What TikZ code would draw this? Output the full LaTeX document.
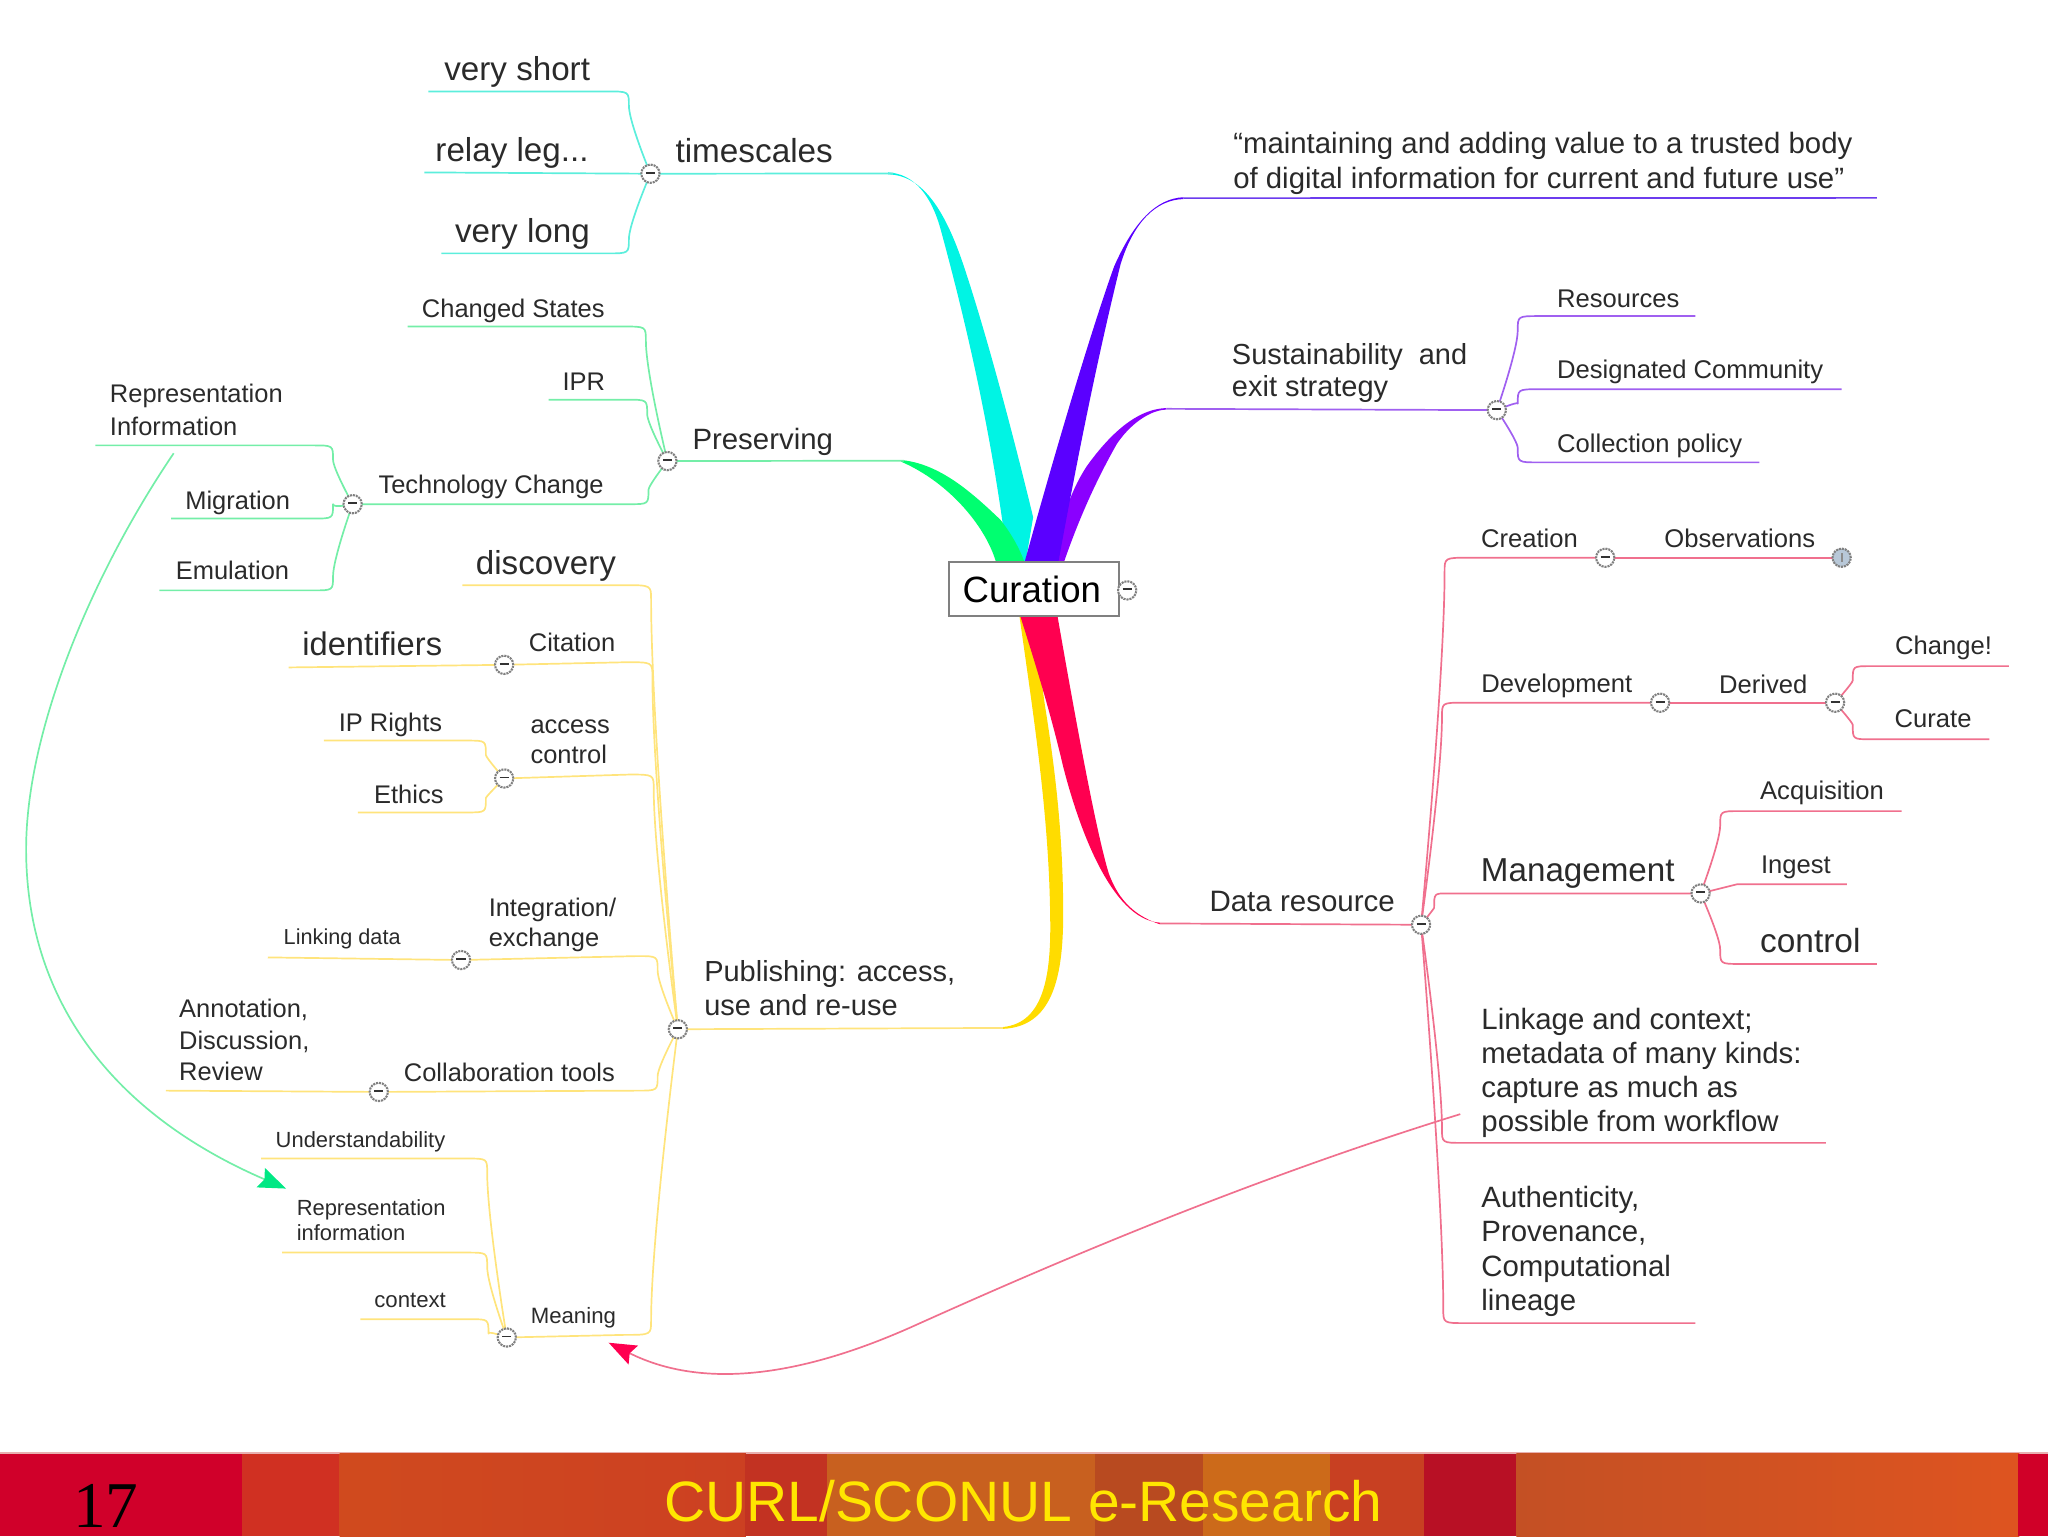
\documentclass[tikz,border=0pt]{standalone}
\usepackage{fontspec}
\setmainfont{Liberation Sans}
\newfontfamily\serifnum{Liberation Serif}
\usetikzlibrary{calc,backgrounds,arrows.meta}
\definecolor{inkc}{HTML}{2A2A2A}
\definecolor{lcyan}{HTML}{5CEEDC}
\definecolor{lviolet}{HTML}{6C3CEE}
\definecolor{lpurple}{HTML}{A060F0}
\definecolor{lgreen}{HTML}{74EEA8}
\definecolor{lyellow}{HTML}{FFE47C}
\definecolor{lpink}{HTML}{F0708E}
\definecolor{fcyan}{HTML}{00F4E4}
\definecolor{fviolet}{HTML}{5A00FF}
\definecolor{fpurple}{HTML}{8A00FF}
\definecolor{fgreen}{HTML}{00FF70}
\definecolor{fyellow}{HTML}{FFDC00}
\definecolor{fred}{HTML}{FF0050}
\definecolor{arrowgreen}{HTML}{00E884}
\definecolor{footline}{HTML}{E8B0B0}
\definecolor{footyellow}{HTML}{FFE600}
\definecolor{sa}{HTML}{D04A1E}
\definecolor{sb}{HTML}{CC4022}
\definecolor{sc}{HTML}{C45024}
\definecolor{sd}{HTML}{DE5420}
\definecolor{hubplus}{HTML}{B8C8D8}
\tikzset{
  x=1pt,y=-1pt,
  t/.style={font=\fontsize{#1}{#1}\selectfont,text=inkc,inner sep=0pt,anchor=center},
  tl/.style={t=#1,anchor=west},
  ml/.style 2 args={font=\fontsize{#1}{#2}\selectfont,text=inkc,inner sep=0pt,align=left,anchor=north west},
  hub/.style={circle,draw=black!50,dash pattern=on 1.6pt off 0.7pt,line width=1.6pt,fill=white,minimum size=14pt,inner sep=0pt,text=black!80,font=\fontsize{6}{6}\selectfont},
  rootbox/.style={draw=black!50,line width=1.5pt,fill=white,minimum width=130pt,minimum height=41pt,inner sep=0pt,font=\fontsize{28}{28}\selectfont,text=black},
  wire/.style={line width=1.3pt,line join=round},
  linktip/.style={-{Stealth[length=21pt,width=16pt,inset=3pt,color=#1]}},
}
\newcommand\minusmark{\rule[1.5pt]{7pt}{1.5pt}}
\newcommand\plusmark{\textcolor{black!45}{\rule[-1pt]{1.5pt}{6.5pt}}}
% #1 start, #2 corner, #3 hub
\newcommand\bend[3]{%
  \coordinate (tmpA) at ($(#2)!.5!(#2 -| #3)$);
  \coordinate (tmpM) at ($(#2)!.5!(#3)$);
  \coordinate (tmpK) at ($(tmpA)!11pt!(tmpM)$);
  \draw (#1) -- (#2) .. controls (tmpA) .. (tmpK) .. controls ($(tmpK)!.6!(tmpM)$) and (#3.center) .. (#3.center);}
% hub, name, corner x, y, end x : leaf with a free end
\newcommand\leaf[5]{\coordinate (#2-c) at (#3,#4);\coordinate (#2-e) at (#5,#4);\bend{#2-e}{#2-c}{#1}}
% outer hub, inner hub, corner x, y
\newcommand\hublink[4]{\coordinate (#2-c) at (#3,#4);\bend{#2.center}{#2-c}{#1}}
\newcommand\stripe[3]{\definecolor{stripecol}{HTML}{#3}\fill[stripecol] (#1,1113) rectangle (#2,1176);}
\begin{document}
\begin{tikzpicture}
\useasboundingbox (0,0) rectangle (1568,1176);
% footer
\fill[footline] (0,1111.5) rectangle (1568,1113.5);
\stripe{0}{186}{D0002A}
\stripe{185}{261}{D03022}
\shade[left color=sa,right color=sb] (260,1113) rectangle (571,1176);
\stripe{570}{634}{C23222}
\stripe{633}{839}{C8601F}
\stripe{838}{922}{B84A20}
\stripe{921}{1019}{CC6A1A}
\stripe{1018}{1091}{C84022}
\stripe{1090}{1162}{B81025}
\shade[left color=sc,right color=sd] (1161,1113) rectangle (1546,1176);
\stripe{1545}{1568}{D00028}
\node[font=\fontsize{50}{50}\selectfont\serifnum,text=black,inner sep=0pt] (pagenum) at (81,1153) {17};
\node[font=\fontsize{43.6}{44}\selectfont,text=footyellow,inner sep=0pt] (foottitle) at (783.5,1149) {CURL/SCONUL e-Research};
% root
\node[rootbox] (root) at (791.5,451) {\kern-3pt Curation};
\node[hub] (hroot) at (863,452) {\minusmark};
% hubs
\node[hub] (htime) at (498,133) {\minusmark};
\node[hub] (hpres) at (511,353) {\minusmark};
\node[hub] (htech) at (270,386) {\minusmark};
\node[hub] (hpub) at (519,788) {\minusmark};
\node[hub] (hcit) at (386,509) {\minusmark};
\node[hub] (hacc) at (386,596) {\minusmark};
\node[hub] (hint) at (353,735) {\minusmark};
\node[hub] (hcol) at (290,836) {\minusmark};
\node[hub] (hmean) at (388,1024) {\minusmark};
\node[hub] (hsus) at (1146,314) {\minusmark};
\node[hub] (hdata) at (1088,708) {\minusmark};
\node[hub] (hcre) at (1229,427) {\minusmark};
\node[hub,fill=hubplus] (hobs) at (1410,427) {\plusmark};
\node[hub] (hdev) at (1271,538) {\minusmark};
\node[hub] (hder) at (1405,538) {\minusmark};
\node[hub] (hman) at (1302,684) {\minusmark};
% texts, left
\node[t=25.4] (vshort) at (396,55) {very short};
\node[t=25.4] (relay) at (392,117) {relay leg...};
\node[t=25.4] (vlong) at (400,179) {very long};
\node[tl=25.5] (times) at (517,115) {timescales};
\node[tl=22.5] (pres) at (530,338) {Preserving};
\node[t=19.5] (chg) at (393,238) {Changed States};
\node[t=19.5] (ipr) at (447,292) {IPR};
\node[t=19.5] (tech) at (376,372.5) {Technology Change};
\node[ml={19.5}{25}] (repinfo) at (84,294) {Representation\\Information};
\node[t=19.5] (migr) at (182,385) {Migration};
\node[t=19.5] (emul) at (178,437) {Emulation};
\node[ml={22.2}{26.5}] (pub) at (539,735) {Publishing: access,\\use and re-use};
\node[t=25.4] (disc) at (418,433) {discovery};
\node[t=19.5] (cit) at (438,492) {Citation};
\node[t=25] (ident) at (285,493) {identifiers};
\node[ml={19.5}{23}] (acc) at (406,551) {access\\control};
\node[t=19.5] (iprights) at (299,555) {IP Rights};
\node[t=19.5] (ethics) at (313,608) {Ethics};
\node[ml={19.5}{23}] (integ) at (374,687) {Integration/\\exchange};
\node[t=16.6] (link) at (262,719) {Linking data};
\node[t=19.5] (collab) at (390,821) {Collaboration tools};
\node[ml={19.5}{24}] (annot) at (137,765) {Annotation,\\Discussion,\\Review};
\node[t=17] (mean) at (439,1009) {Meaning};
\node[t=16.8] (under) at (276,874) {Understandability};
\node[ml={16.8}{18.5}] (rep2) at (227,918.5) {Representation\\information};
\node[t=17] (ctx) at (314,996) {context};
% texts, right
\node[ml={22.5}{26.5}] (quote) at (944,101) {“maintaining and adding value to a trusted body\\of digital information for current and future use”};
\node[ml={22.2}{25}] (sus) at (943,262.5) {Sustainability\ \ and\\exit strategy};
\node[t=19.6] (res) at (1239,229) {Resources};
\node[t=19.6] (dc) at (1294,285) {Designated Community};
\node[t=19.6] (cp) at (1263,341) {Collection policy};
\node[t=22.6] (data) at (997,690) {Data resource};
\node[t=19.6] (cre) at (1171,412) {Creation};
\node[t=19.6] (obs) at (1332,412) {Observations};
\node[t=19.6] (dev) at (1192,525) {Development};
\node[t=19.6] (der) at (1350,524) {Derived};
\node[t=19.6] (chge) at (1488,496) {Change!};
\node[t=19.6] (cur) at (1480,550) {Curate};
\node[t=25.4] (man) at (1208,669) {Management};
\node[t=19.6] (acq) at (1395,607) {Acquisition};
\node[t=19.6] (ing) at (1375,664) {Ingest};
\node[t=25.6] (ctrl) at (1386,720) {control};
\node[ml={22.5}{26}] (linkage) at (1134,772) {Linkage and context;\\metadata of many kinds:\\capture as much as\\possible from workflow};
\node[ml={22.5}{26.3}] (auth) at (1134,908) {Authenticity,\\Provenance,\\Computational\\lineage};
% free ends
\coordinate (cyanend) at (684,132.8);
\coordinate (greenend) at (692,352.7);
\coordinate (yellowend) at (768,787);
\coordinate (violetend) at (906,151.7);
\coordinate (purpleend) at (893,313);
\coordinate (redend) at (888,707);
\coordinate (quoteend) at (1437,151.5);
\coordinate (greenstart) at (133,347);
\coordinate (greentip) at (219,910);
\coordinate (pinkstart) at (1118,853);
\coordinate (pinktip) at (466,1028);
\begin{scope}[on background layer]
% tapered main branches
\fill[fcyan] (680,132) .. controls (700,133) and (713,150) .. (720,175) .. controls (735,230) and (755,310) .. (768,403) -- (775,432) -- (785,432) -- (791,396) .. controls (775,330) and (755,255) .. (738,204) .. controls (725,165) and (708,134) .. (680,133.5) -- cycle;
\fill[fgreen] (690,352.2) .. controls (720,355) and (745,378) .. (766,398) .. controls (773,407) and (780,418) .. (785,432) -- (763,432) .. controls (756,405) and (728,370) .. (690,353.5) -- cycle;
\fill[fpurple] (893,312.4) .. controls (875,313) and (855,325) .. (832,357) .. controls (825,368) and (815,385) .. (805,432) -- (814,432) .. controls (825,400) and (838,370) .. (855,340) .. controls (865,325) and (880,314) .. (893,313.6) -- cycle;
\fill[fviolet] (906,151) .. controls (885,152) and (868,170) .. (853,204) .. controls (840,240) and (815,320) .. (784,432) -- (810,432) .. controls (825,350) and (840,275) .. (858,202) .. controls (868,170) and (885,153) .. (906,152.4) -- cycle;
\fill[fyellow] (780,468) .. controls (790,540) and (803,620) .. (804,700) .. controls (805,745) and (800,783) .. (768,786.3) -- (768,787.7) .. controls (805,786) and (814,750) .. (814,700) .. controls (814,640) and (808,590) .. (800,540) -- (790,468) -- cycle;
\fill[fred] (780,468) .. controls (790,500) and (803,540) .. (814,587) .. controls (825,630) and (850,704) .. (888,706.4) -- (888,707.6) .. controls (865,700) and (855,685) .. (849,669) .. controls (840,640) and (825,560) .. (809,468) -- cycle;
% timescales
\begin{scope}[wire,lcyan]
\draw (htime.center) -- (cyanend);
\leaf{htime}{vshort}{465}{70}{328}
\coordinate (relay-e) at (325,132); \draw (relay-e) -- (htime.center);
\leaf{htime}{vlong}{465}{194}{338}
\end{scope}
% preserving
\begin{scope}[wire,lgreen]
\draw (hpres.center) -- (greenend);
\leaf{hpres}{chg}{478}{250}{312}
\leaf{hpres}{ipr}{480}{306}{420}
\hublink{hpres}{htech}{482}{386}
\leaf{htech}{repinfo}{240}{341}{73}
\leaf{htech}{migr}{240}{397}{131}
\leaf{htech}{emul}{240}{452}{122}
\end{scope}
% publishing
\begin{scope}[wire,lyellow]
\draw (hpub.center) -- (yellowend);
\leaf{hpub}{disc}{478}{448}{354}
\hublink{hpub}{hcit}{480}{507}
\hublink{hpub}{hacc}{482}{593}
\hublink{hpub}{hint}{488}{732}
\hublink{hpub}{hcol}{488}{835}
\hublink{hpub}{hmean}{478}{1022}
\coordinate (ident-e) at (221,511); \draw (ident-e) -- (hcit.center);
\leaf{hacc}{iprights}{358}{567}{248}
\leaf{hacc}{ethics}{358}{622}{274}
\coordinate (link-e) at (205,733); \draw (link-e) -- (hint.center);
\coordinate (annot-e) at (127,835); \draw (annot-e) -- (hcol.center);
\leaf{hmean}{under}{358}{887}{200}
\leaf{hmean}{rep2}{358}{959}{216}
\leaf{hmean}{ctx}{360}{1010}{276}
\end{scope}
% quote
\begin{scope}[wire,lviolet]
\draw (violetend) -- (quoteend);
\end{scope}
% sustainability
\begin{scope}[wire,lpurple]
\draw (purpleend) -- (hsus.center);
\leaf{hsus}{res}{1178}{242}{1298}
\leaf{hsus}{dc}{1178}{298}{1410}
\leaf{hsus}{cp}{1178}{354}{1347}
\end{scope}
% data resource
\begin{scope}[wire,lpink]
\draw (redend) -- (hdata.center);
\hublink{hdata}{hcre}{1124}{427}
\hublink{hdata}{hdev}{1120}{538}
\hublink{hdata}{hman}{1108}{684}
\leaf{hdata}{linkage}{1120}{875}{1398}
\leaf{hdata}{auth}{1122}{1013}{1298}
\draw (hcre.center) -- (hobs.center);
\draw (hdev.center) -- (hder.center);
\leaf{hder}{chge}{1432}{510}{1538}
\leaf{hder}{cur}{1432}{566}{1523}
\leaf{hman}{acq}{1332}{621}{1456}
\coordinate (ing-c) at (1330,677); \coordinate (ing-e) at (1414,677);\draw (ing-e) -- (ing-c) -- (hman.center);
\leaf{hman}{ctrl}{1332}{738}{1437}
\end{scope}
% cross links
\draw[wire,lgreen,linktip=arrowgreen] (greenstart) .. controls (70,440) and (20,560) .. (20,650) .. controls (20,760) and (80,850) .. (greentip);
\draw[wire,lpink,linktip=fred] (pinkstart) .. controls (950,905) and (800,970) .. (700,1015) .. controls (600,1060) and (530,1060) .. (pinktip);
\end{scope}
\end{tikzpicture}
\end{document}
